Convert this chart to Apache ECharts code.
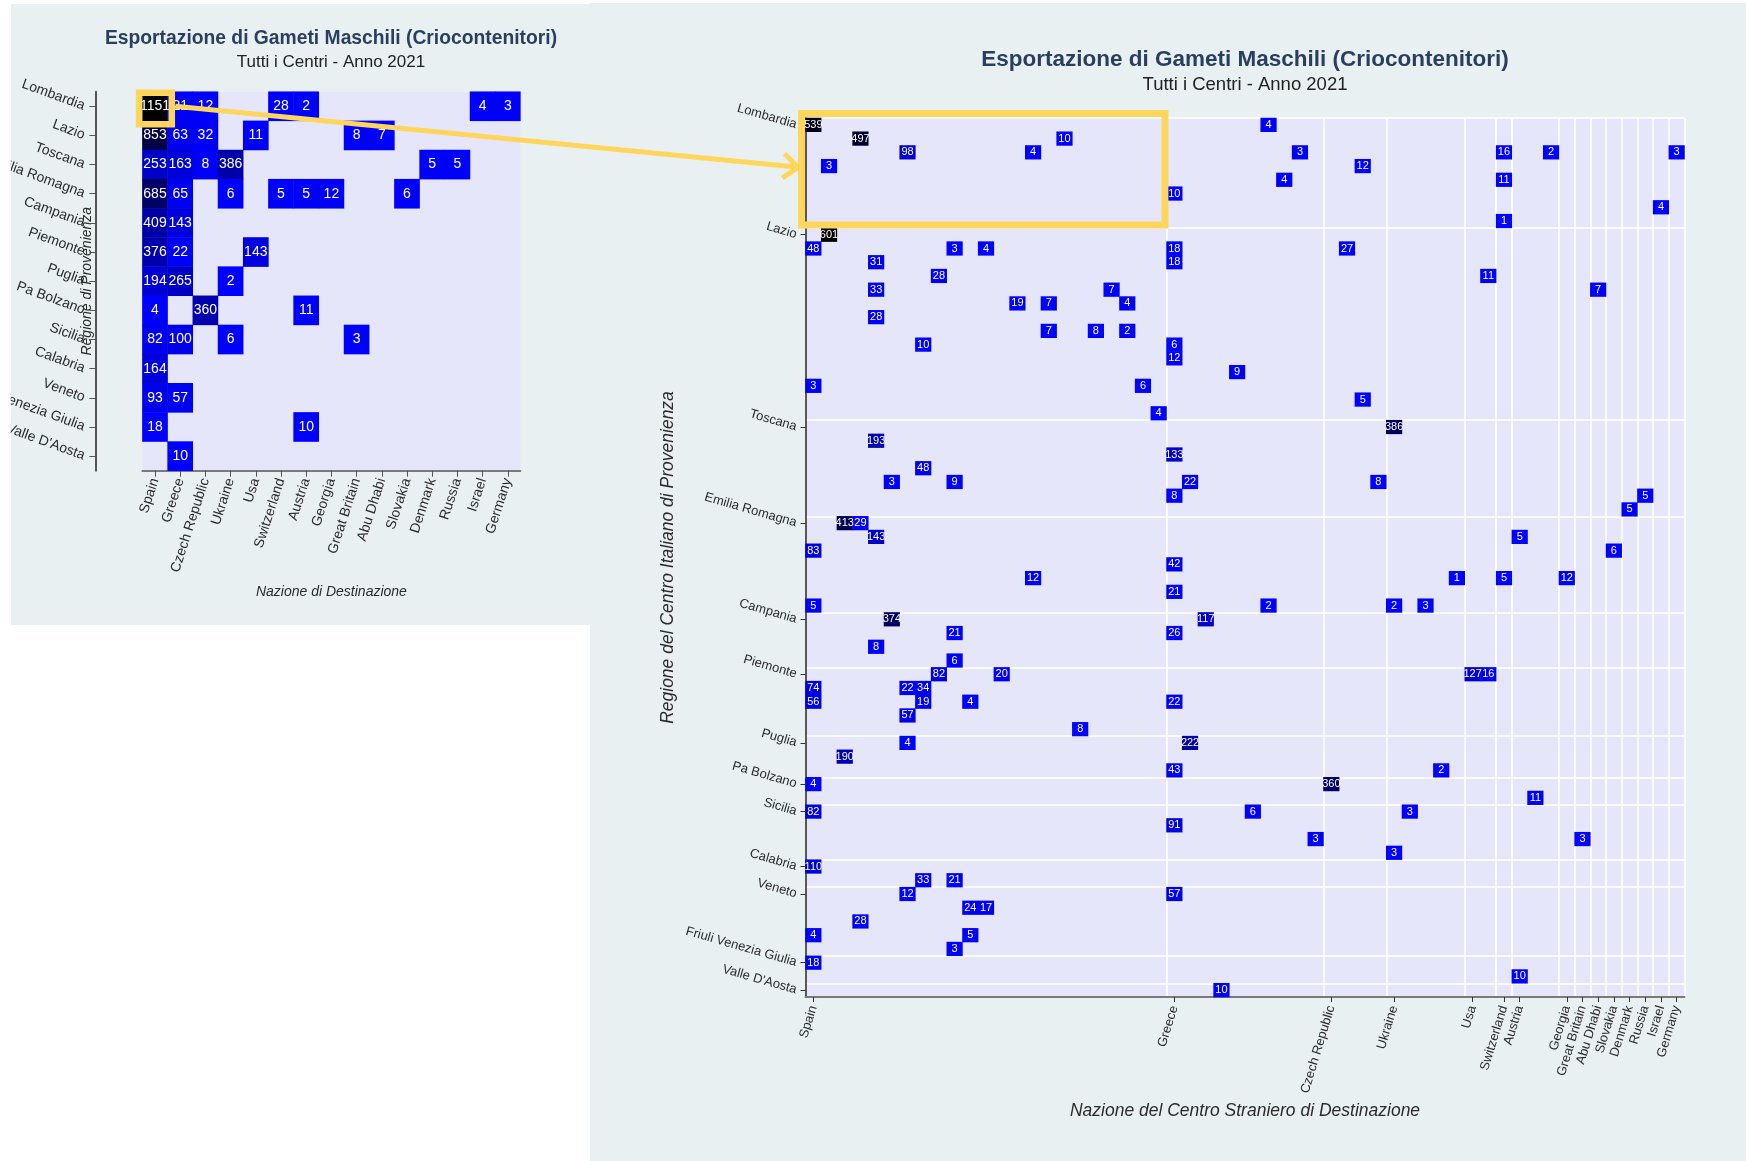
<!DOCTYPE html>
<html><head><meta charset="utf-8">
<script src="https://cdn.jsdelivr.net/npm/echarts@6/dist/echarts.min.js"></script>
<style>
html,body{margin:0;padding:0;background:#fff;}
#wrap{position:relative;width:1746px;height:1161px;overflow:hidden;}
.panel{position:absolute;background:#e8f0f2;}
#c{position:absolute;left:0;top:0;width:1746px;height:1161px;}
</style>
</head><body>
<div id="wrap">
<div class="panel" style="left:10.7px;top:4px;width:579.3px;height:621px;"></div>
<div class="panel" style="left:590px;top:3.3px;width:1156px;height:1158px;"></div>
<div id="c"></div>
</div>
<script>
// ---------- DATA ----------
const nations = ['Spain','Greece','Czech Republic','Ukraine','Usa','Switzerland','Austria','Georgia','Great Britain','Abu Dhabi','Slovakia','Denmark','Russia','Israel','Germany'];
const regions = ['Lombardia','Lazio','Toscana','Emilia Romagna','Campania','Piemonte','Puglia','Pa Bolzano','Sicilia','Calabria','Veneto','Friuli Venezia Giulia',"Valle D'Aosta"];

// left chart: totals per region and destination nation [region, nation, value]
const regionNationTotals = [
  ['Lombardia','Spain',1151],['Lombardia','Greece',21],['Lombardia','Czech Republic',12],['Lombardia','Switzerland',28],['Lombardia','Austria',2],['Lombardia','Israel',4],['Lombardia','Germany',3],
  ['Lazio','Spain',853],['Lazio','Greece',63],['Lazio','Czech Republic',32],['Lazio','Usa',11],['Lazio','Great Britain',8],['Lazio','Abu Dhabi',7],
  ['Toscana','Spain',253],['Toscana','Greece',163],['Toscana','Czech Republic',8],['Toscana','Ukraine',386],['Toscana','Denmark',5],['Toscana','Russia',5],
  ['Emilia Romagna','Spain',685],['Emilia Romagna','Greece',65],['Emilia Romagna','Ukraine',6],['Emilia Romagna','Switzerland',5],['Emilia Romagna','Austria',5],['Emilia Romagna','Georgia',12],['Emilia Romagna','Slovakia',6],
  ['Campania','Spain',409],['Campania','Greece',143],
  ['Piemonte','Spain',376],['Piemonte','Greece',22],['Piemonte','Usa',143],
  ['Puglia','Spain',194],['Puglia','Greece',265],['Puglia','Ukraine',2],
  ['Pa Bolzano','Spain',4],['Pa Bolzano','Czech Republic',360],['Pa Bolzano','Austria',11],
  ['Sicilia','Spain',82],['Sicilia','Greece',100],['Sicilia','Ukraine',6],['Sicilia','Great Britain',3],
  ['Calabria','Spain',164],
  ['Veneto','Spain',93],['Veneto','Greece',57],
  ['Friuli Venezia Giulia','Spain',18],['Friuli Venezia Giulia','Austria',10],
  ["Valle D'Aosta",'Greece',10]
];

// right chart: number of centres per nation / per region
const nationCenterCounts = [23,10,4,5,2,1,3,1,1,1,1,1,1,1,1];
const regionCenterCounts = [8,14,7,7,4,5,3,2,4,2,5,2,1];

// right chart: [foreign centre index, italian centre index, value]
const centerFlows = [
  [0,0,539],[3,1,497],[16,1,10],[6,2,98],[14,2,4],[1,3,3],[23,5,10],[29,0,4],[31,2,3],[30,4,4],[35,3,12],[44,2,16],[44,4,11],[44,7,1],[47,2,2],[55,2,3],[54,6,4],
  [1,8,601],[0,9,48],[9,9,3],[11,9,4],[23,9,18],[34,9,27],[4,10,31],[23,10,18],[8,11,28],[43,11,11],[4,12,33],[19,12,7],[50,12,7],[13,13,19],[15,13,7],[20,13,4],[4,14,28],[15,15,7],[18,15,8],[20,15,2],[7,16,10],[23,16,6],[23,17,12],[27,18,9],[0,19,3],[21,19,6],[35,20,5],[22,21,4],
  [37,22,386],[4,23,193],[23,24,133],[7,25,48],[5,26,3],[9,26,9],[24,26,22],[36,26,8],[23,27,8],[53,27,5],[52,28,5],
  [2,29,413],[3,29,29],[4,30,143],[45,30,5],[0,31,83],[51,31,6],[23,32,42],[14,33,12],[41,33,1],[44,33,5],[48,33,12],[23,34,21],[0,35,5],[29,35,2],[37,35,2],[39,35,3],
  [5,36,374],[25,36,117],[9,37,21],[23,37,26],[4,38,8],[9,39,6],
  [8,40,82],[12,40,20],[42,40,127],[43,40,16],[0,41,74],[6,41,22],[7,41,34],[0,42,56],[7,42,19],[10,42,4],[23,42,22],[6,43,57],[17,44,8],
  [6,45,4],[24,45,222],[2,46,190],[23,47,43],[40,47,2],
  [0,48,4],[33,48,360],[46,49,11],
  [0,50,82],[28,50,6],[38,50,3],[23,51,91],[32,52,3],[49,52,3],[37,53,3],
  [0,54,110],[7,55,33],[9,55,21],
  [6,56,12],[23,56,57],[10,57,24],[11,57,17],[3,58,28],[0,59,4],[10,59,5],[9,60,3],
  [0,61,18],[45,62,10],
  [26,63,10]
];

const titleMain = 'Esportazione di Gameti Maschili (Criocontenitori)';
const titleSub = 'Tutti i Centri - Anno 2021';

// ---------- BUILD ----------
const FONT = "'Liberation Sans', Arial, Helvetica, sans-serif";
const xCenters = [], xStarts = new Set();
nations.forEach((n, i) => { for (let k = 0; k < nationCenterCounts[i]; k++) { if (k === 0) xStarts.add(xCenters.length); xCenters.push(n + '#' + k); } });
const yCenters = [], yStarts = new Set();
regions.forEach((r, i) => { for (let k = 0; k < regionCenterCounts[i]; k++) { if (k === 0) yStarts.add(yCenters.length); yCenters.push(r + '#' + k); } });

const leftData = regionNationTotals.map(d => [nations.indexOf(d[1]), regions.indexOf(d[0]), d[2]]);
const leftMax = Math.max(...leftData.map(d => d[2]));
const rightMax = Math.max(...centerFlows.map(d => d[2]));

const txt = '#2b2b2b';
const xStartFn = (i) => xStarts.has(i);
const yStartFn = (i) => yStarts.has(i);
const nameOf = (v) => String(v).split('#')[0];

const option = {
  animation: false,
  textStyle: { fontFamily: FONT },
  grid: [
    { left: 142.4, top: 91.7, width: 378, height: 379, show: true, backgroundColor: '#e6e6fa', borderWidth: 0, containLabel: false, outerBoundsMode: 'none' },
    { left: 805.5, top: 118, width: 879, height: 879, show: true, backgroundColor: '#e6e6fa', borderWidth: 0, containLabel: false, outerBoundsMode: 'none' }
  ],
  xAxis: [
    {
      type: 'category', gridIndex: 0, data: nations,
      axisLine: { show: true, lineStyle: { color: '#7a7a7a', width: 2 } },
      axisTick: { show: true, alignWithLabel: true, length: 6, lineStyle: { color: '#555' } },
      axisLabel: { interval: 0, rotate: 72, fontSize: 14, color: txt, margin: 8, fontFamily: FONT },
      splitLine: { show: false },
      name: 'Nazione di Destinazione', nameLocation: 'middle', nameGap: 114.5, nameMoveOverlap: false,
      nameTextStyle: { fontStyle: 'italic', fontSize: 14, color: txt, fontFamily: FONT }
    },
    {
      type: 'category', gridIndex: 1, data: xCenters,
      axisLine: { show: true, lineStyle: { color: '#7a7a7a', width: 2 } },
      axisTick: { show: true, alignWithLabel: true, interval: xStartFn, length: 5, lineStyle: { color: '#333' } },
      axisLabel: { interval: xStartFn, formatter: nameOf, rotate: 73, fontSize: 13, color: txt, margin: 9, fontFamily: FONT },
      splitLine: { show: true, interval: xStartFn, lineStyle: { color: '#ffffff', width: 1.5 } },
      name: 'Nazione del Centro Straniero di Destinazione', nameLocation: 'middle', nameGap: 105, nameMoveOverlap: false,
      nameTextStyle: { fontStyle: 'italic', fontSize: 17.5, color: txt, fontFamily: FONT }
    }
  ],
  yAxis: [
    {
      type: 'category', gridIndex: 0, data: regions, inverse: true, offset: 47,
      axisLine: { show: true, lineStyle: { color: '#555', width: 2 } },
      axisTick: { show: true, alignWithLabel: true, length: 6, lineStyle: { color: '#555' } },
      axisLabel: { interval: 0, rotate: -20, fontSize: 14, color: txt, margin: 11, fontFamily: FONT },
      splitLine: { show: false },
      name: 'Regione di Provenienza', nameLocation: 'middle', nameGap: 1.5, nameMoveOverlap: false,
      nameTextStyle: { fontStyle: 'italic', fontSize: 14, color: txt, fontFamily: FONT }
    },
    {
      type: 'category', gridIndex: 1, data: yCenters, inverse: true,
      axisLine: { show: true, lineStyle: { color: '#222', width: 1.5 } },
      axisTick: { show: true, alignWithLabel: true, interval: yStartFn, length: 5, lineStyle: { color: '#333' } },
      axisLabel: { interval: yStartFn, formatter: nameOf, rotate: -16, fontSize: 13, color: txt, margin: 9, fontFamily: FONT },
      splitLine: { show: true, interval: yStartFn, lineStyle: { color: '#ffffff', width: 1.5 } },
      name: 'Regione del Centro Italiano di Provenienza', nameLocation: 'middle', nameGap: 128.5, nameMoveOverlap: false,
      nameTextStyle: { fontStyle: 'italic', fontSize: 17.5, color: txt, fontFamily: FONT }
    }
  ],
  visualMap: [
    { type: 'continuous', show: false, seriesIndex: 0, dimension: 2, min: 0, max: leftMax, inRange: { color: ['#0000ff', '#000000'] } },
    { type: 'continuous', show: false, seriesIndex: 1, dimension: 2, min: 0, max: rightMax, inRange: { color: ['#0000ff', '#000000'] } }
  ],
  series: [
    {
      type: 'heatmap', xAxisIndex: 0, yAxisIndex: 0, data: leftData,
      label: { show: true, color: '#fff', fontSize: 14, fontFamily: FONT, formatter: p => p.value[2] },
      itemStyle: { borderWidth: 0 }, emphasis: { disabled: true }
    },
    {
      type: 'heatmap', xAxisIndex: 1, yAxisIndex: 1, data: centerFlows,
      label: { show: true, color: '#fff', fontSize: 11, fontFamily: FONT, formatter: p => p.value[2] },
      itemStyle: { borderWidth: 0 }, emphasis: { disabled: true }
    }
  ]
};

const chart = echarts.init(document.getElementById('c'), null, { renderer: 'canvas' });
chart.setOption(option);

// ---------- overlays (titles, highlight boxes, arrow) ----------
const a0 = chart.convertToPixel({ seriesIndex: 0 }, [0, 0]);
const a1 = chart.convertToPixel({ seriesIndex: 0 }, [1, 1]);
const bw0 = a1[0] - a0[0], bh0 = a1[1] - a0[1];
const L = { x0: a0[0] - bw0 / 2 - 3.3, x1: a0[0] + bw0 / 2 + 4.2, y0: a0[1] - bh0 / 2 + 1, y1: a0[1] + bh0 / 2 + 3.3 };

const spainCols = nationCenterCounts[0], lombRows = regionCenterCounts[0];
const b0 = chart.convertToPixel({ seriesIndex: 1 }, [0, 0]);
const b1 = chart.convertToPixel({ seriesIndex: 1 }, [spainCols, lombRows]);
const bw1 = (b1[0] - b0[0]) / spainCols, bh1 = (b1[1] - b0[1]) / lombRows;
const R = { x0: b0[0] - bw1 / 2 - 4, x1: b1[0] - bw1 / 2 - 1.6, y0: b0[1] - bh1 / 2 - 4.5, y1: b1[1] - bh1 / 2 - 2.8 };

const yellow = '#ffd65c';
const start = [L.x1 + 3.5, a0[1]];
const tip = [R.x0 - 3.5, (R.y0 + R.y1) / 2 - 2];
const dx = tip[0] - start[0], dy = tip[1] - start[1], dl = Math.hypot(dx, dy);
const ux = dx / dl, uy = dy / dl, ang = 40 * Math.PI / 180, al = 19;
const rot = (x, y, a) => [x * Math.cos(a) - y * Math.sin(a), x * Math.sin(a) + y * Math.cos(a)];
const r1 = rot(ux, uy, ang), r2 = rot(ux, uy, -ang);
const armA = [tip[0] - r1[0] * al, tip[1] - r1[1] * al];
const armB = [tip[0] - r2[0] * al, tip[1] - r2[1] * al];

const lcx = 331, rcx = 1245;
chart.setOption({
  graphic: [
    { type: 'text', x: lcx, y: 38.5, z: 50, style: { text: titleMain, fill: '#2a3f5f', font: "bold 19.3px " + FONT, textAlign: 'center', textVerticalAlign: 'middle' } },
    { type: 'text', x: lcx, y: 62.5, z: 50, style: { text: titleSub, fill: '#222', font: "17px " + FONT, textAlign: 'center', textVerticalAlign: 'middle' } },
    { type: 'text', x: rcx, y: 59.5, z: 50, style: { text: titleMain, fill: '#2a3f5f', font: "bold 22.5px " + FONT, textAlign: 'center', textVerticalAlign: 'middle' } },
    { type: 'text', x: rcx, y: 85, z: 50, style: { text: titleSub, fill: '#222', font: "18.5px " + FONT, textAlign: 'center', textVerticalAlign: 'middle' } },
    { type: 'rect', z: 90, shape: { x: 0, y: 0, width: 10.7, height: 626 }, style: { fill: '#ffffff' } },
    { type: 'rect', z: 100, shape: { x: L.x0, y: L.y0, width: L.x1 - L.x0, height: L.y1 - L.y0 }, style: { fill: null, stroke: yellow, lineWidth: 6.5 } },
    { type: 'rect', z: 100, shape: { x: R.x0, y: R.y0, width: R.x1 - R.x0, height: R.y1 - R.y0 }, style: { fill: null, stroke: yellow, lineWidth: 7 } },
    { type: 'line', z: 100, shape: { x1: start[0], y1: start[1], x2: tip[0] - ux * 2, y2: tip[1] - uy * 2 }, style: { stroke: yellow, lineWidth: 5 } },
    { type: 'polyline', z: 100, shape: { points: [armA, tip, armB] }, style: { fill: null, stroke: yellow, lineWidth: 5, lineJoin: 'miter' } }
  ]
});
</script>
</body></html>
